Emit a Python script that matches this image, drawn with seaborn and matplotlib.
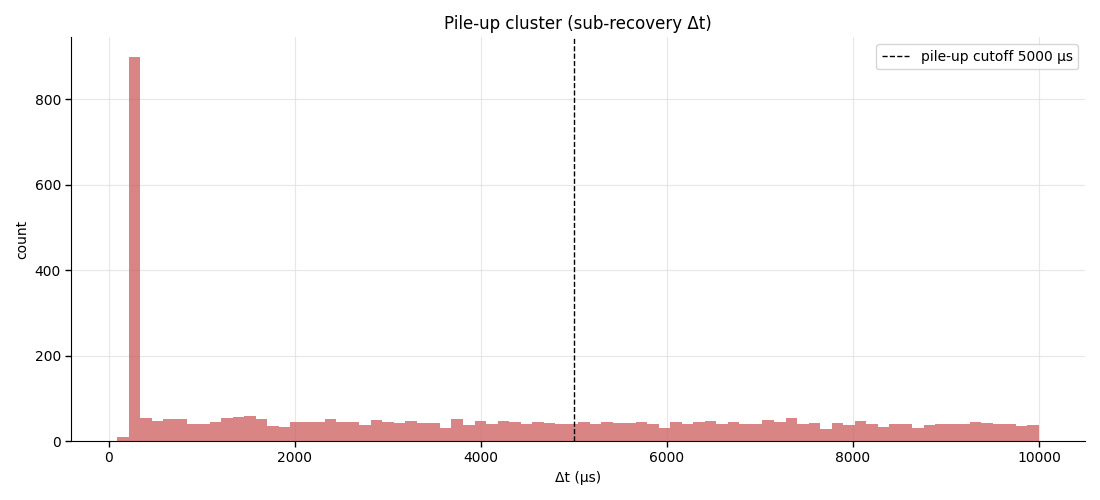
import numpy as np
import pandas as pd
import matplotlib
matplotlib.use('Agg')
import matplotlib.pyplot as plt
import seaborn as sns

# histogram of sub-recovery dt, 80 bins between ~95 and 10000 us
bin_lo = 95.0
bin_hi = 10000.0
n_bins = 80
counts = [
    9, 900, 54, 47, 51, 51, 40, 40, 44, 54,
    56, 58, 51, 35, 33, 44, 44, 44, 51, 44,
    44, 37, 49, 44, 42, 47, 42, 42, 30, 51,
    37, 47, 40, 47, 44, 40, 44, 42, 40, 40,
    44, 40, 44, 42, 42, 44, 40, 30, 44, 40,
    44, 47, 40, 44, 40, 40, 49, 44, 54, 40,
    42, 28, 42, 37, 47, 40, 33, 40, 40, 30,
    37, 40, 40, 40, 44, 42, 40, 40, 35, 37,
]
cutoff = 5000

edges = np.linspace(bin_lo, bin_hi, n_bins + 1)
centers = (edges[:-1] + edges[1:]) / 2
df = pd.DataFrame({'dt': centers, 'n': counts})

sns.set_style('white', rc={'text.color': 'black', 'axes.labelcolor': 'black',
                           'xtick.color': 'black', 'ytick.color': 'black',
                           'axes.edgecolor': 'black'})
fig, ax = plt.subplots(figsize=(11, 5), dpi=100)

sns.histplot(data=df, x='dt', weights='n', bins=n_bins, binrange=(bin_lo, bin_hi),
             color='indianred', alpha=0.75, linewidth=0, ax=ax)
ax.axvline(cutoff, color='black', linestyle='--', linewidth=1,
           label='pile-up cutoff %d µs' % cutoff)

ax.grid(True, color='#dddddd', linewidth=0.8, alpha=0.7)
ax.set_axisbelow(True)
ax.set_title('Pile-up cluster (sub-recovery Δt)')
ax.set_xlabel('Δt (µs)')
ax.set_ylabel('count')
ax.tick_params(axis='both', length=4, width=1, direction='out', bottom=True, left=True)
ax.legend(loc='upper right')
sns.despine(ax=ax)

plt.tight_layout()
plt.savefig('out.png')
